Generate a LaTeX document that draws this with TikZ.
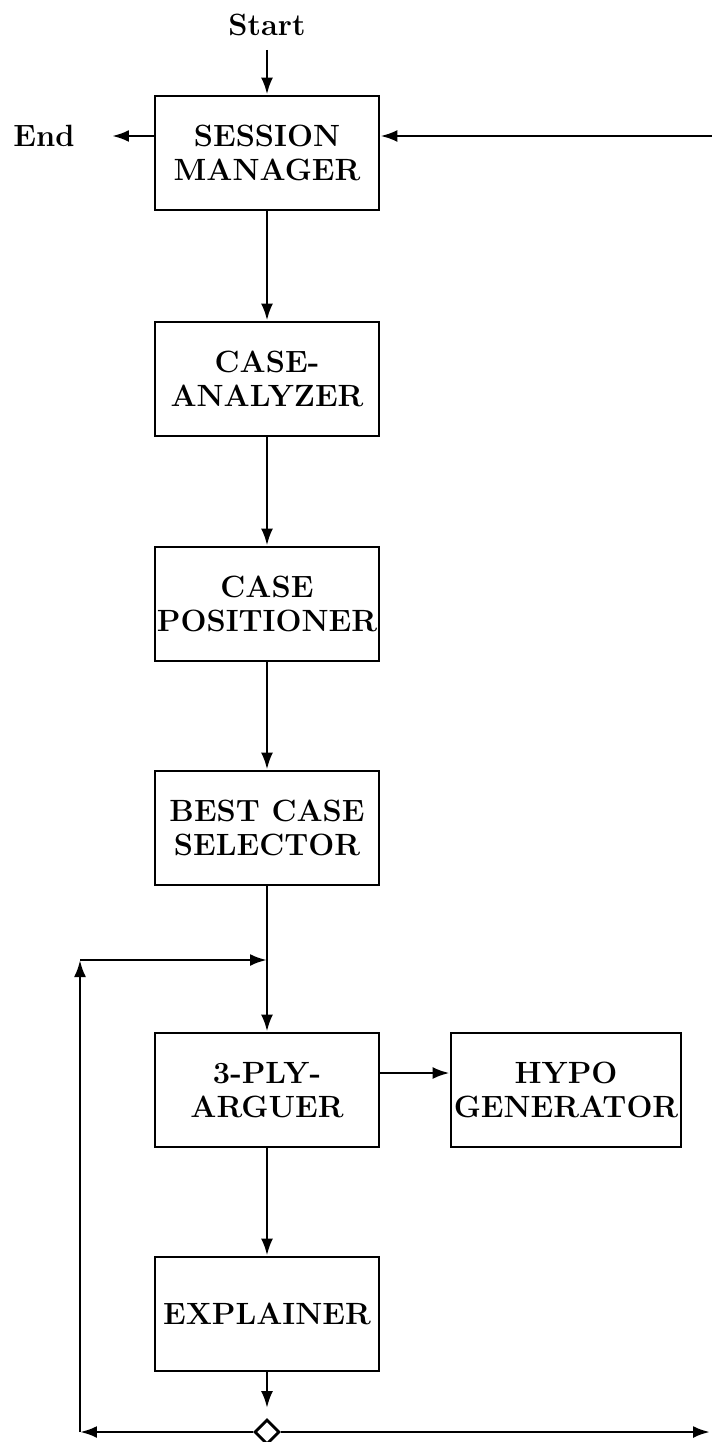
\documentclass[tikz,border=0pt]{standalone}
\usetikzlibrary{arrows.meta,shapes.geometric}
\tikzset{
    module/.style={draw, line width=1.6pt, minimum width=4.48cm, minimum height=2.28cm,
        inner sep=0pt, align=center, font=\bfseries\fontsize{17.5}{19}\selectfont},
    label/.style={font=\bfseries\fontsize{17.5}{19}\selectfont},
    flow/.style={line width=1.6pt, -{Latex[length=0.34cm,width=0.24cm]}}
}
\begin{document}
\begin{tikzpicture}[x=0.02cm,y=-0.02cm]
        \useasboundingbox (0,0) rectangle (712,1442);
        \node[label] (start) at (267,25) {Start};
        \node[label] (end) at (44,136) {End};
        \node[module] (sm) at (267,153) {SESSION\\MANAGER};
        \node[module] (ca) at (267,379) {CASE-\\ANALYZER};
        \node[module] (cp) at (267,604) {CASE\\POSITIONER};
        \node[module] (bcs) at (267,828) {BEST CASE\\SELECTOR};
        \node[module] (arg) at (267,1090) {3-PLY-\\ARGUER};
        \node[module, minimum width=4.6cm] (hypo) at (566,1090) {HYPO\\GENERATOR};
        \node[module] (exp) at (267,1314) {EXPLAINER};
        \node[draw, diamond, line width=1.6pt, fill=white, inner sep=0pt,
            minimum width=0.5cm, minimum height=0.5cm] (split) at (267,1432) {};
        \coordinate (go) at (267,50);
        \coordinate (ret) at (712,136);
        \coordinate (stop) at (112,136);
        \coordinate (bl) at (80,1432);
        \coordinate (br) at (710,1432);
        \coordinate (tl) at (80,960);
        \draw[flow] (go) -- (sm);
        \draw[flow] (ret) -- (sm.east |- ret);
        \draw[flow] (sm.west |- ret) -- (stop);
        \draw[flow] (sm) -- (ca);
        \draw[flow] (ca) -- (cp);
        \draw[flow] (cp) -- (bcs);
        \draw[flow] (bcs) -- (arg);
        \draw[flow] ([yshift=0.34cm]arg.east) -- ([yshift=0.34cm]hypo.west);
        \draw[flow] (arg) -- (exp);
        \draw[flow, shorten >=0.2cm] (exp) -- (split);
        \draw[flow] (split) -- (bl);
        \draw[flow] (split) -- (br);
        \draw[flow] (bl) -- (tl);
        \draw[flow] (tl) -- (tl -| arg.north);
    \end{tikzpicture}
\end{document}
